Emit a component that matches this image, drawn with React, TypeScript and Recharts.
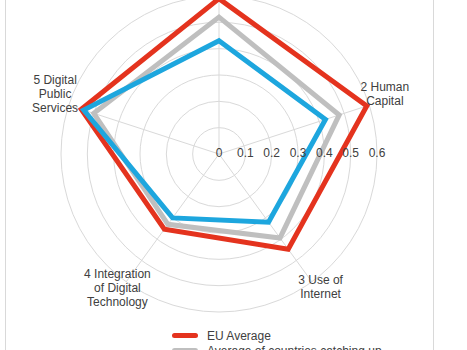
import { RadarChart, Radar, PolarGrid, PolarAngleAxis, PolarRadiusAxis } from 'recharts'

const categories = [
  '1 Connectivity',
  '2 Human\nCapital',
  '3 Use of\nInternet',
  '4 Integration\nof Digital\nTechnology',
  '5 Digital\nPublic\nServices',
]
const euAverage = [0.59, 0.59, 0.447, 0.353, 0.55]
const catchingUp = [0.52, 0.48, 0.394, 0.33, 0.5]
const countryValues = [0.43, 0.425, 0.32, 0.3, 0.54]
const radiusTicks = [0, 0.1, 0.2, 0.3, 0.4, 0.5, 0.6]

const seriesNames = ['EU Average', 'Average of countries catching up', 'Country']

const data = categories.map((name, i) => ({
  name,
  eu: euAverage[i],
  catching: catchingUp[i],
  country: countryValues[i],
}))

const series = [
  { key: 'eu', name: seriesNames[0], color: '#E4331E', dot: '#6b2a3a' },
  { key: 'catching', name: seriesNames[1], color: '#BFBFBF', dot: '#555555' },
  { key: 'country', name: seriesNames[2], color: '#1DA6DE', dot: '#1c4e80' },
]

const textColor = '#404040'
const font = '"Liberation Sans", Arial, sans-serif'

// first-line baseline offsets for each category label
const labelOffsets = [
  { dx: 0, dy: -4 },
  { dx: 8, dy: -12 },
  { dx: 4, dy: -4 },
  { dx: -4, dy: -10 },
  { dx: -6, dy: -19 },
]

function AngleTick(props: any) {
  const { x, y, payload, index } = props
  const off = labelOffsets[index] || { dx: 0, dy: 0 }
  const lines = String(payload.value).split('\n')
  return (
    <text x={x + off.dx} y={y + off.dy} textAnchor="middle" fill={textColor} fontSize={12} fontFamily={font}>
      {lines.map((l, i) => (
        <tspan key={i} x={x + off.dx} dy={i === 0 ? 0 : 14}>{l}</tspan>
      ))}
    </text>
  )
}

function RadiusTick(props: any) {
  const { x, y, payload } = props
  return (
    <text x={x} y={y + 3} textAnchor="middle" fill={textColor} fontSize={12} fontFamily={font}>
      {payload.value}
    </text>
  )
}

export default function App() {
  return (
    <div style={{ position: 'absolute', left: 0, top: 0, width: 467, height: 350, overflow: 'hidden', background: '#fff' }}>
      <div style={{ position: 'absolute', left: 5, top: -60, width: 427, height: 500, border: '1px solid #d9d9d9' }} />
      <div style={{ position: 'absolute', left: 0, top: 0 }}>
        <RadarChart
          width={467}
          height={350}
          data={data}
          cx={219}
          cy={154}
          innerRadius={0}
          outerRadius={158}
          margin={{ top: 0, right: 0, bottom: 0, left: 0 }}
        >
          <PolarGrid gridType="circle" stroke="#d9d9d9" />
          <PolarAngleAxis dataKey="name" tick={AngleTick} tickLine={false} axisLine={false} />
          <PolarRadiusAxis
            angle={0}
            type="number"
            scale="linear"
            domain={[0, 0.6]}
            allowDataOverflow
            allowDecimals
            tickCount={7}
            ticks={radiusTicks}
            tick={RadiusTick}
            axisLine={false}
            tickLine={false}
            orientation="middle"
          />
          {series.map((s) => (
            <Radar
              key={s.key}
              dataKey={s.key}
              name={s.name}
              stroke={s.color}
              strokeWidth={5}
              strokeLinejoin="miter"
              fill="none"
              fillOpacity={0}
              dot={{ r: 2.5, fill: s.dot, stroke: 'none' }}
              isAnimationActive={false}
            />
          ))}
        </RadarChart>
      </div>
      <div style={{ position: 'absolute', left: 172, top: 328, fontFamily: font, fontSize: 12, color: textColor }}>
        {series.map((s) => (
          <div key={s.key} style={{ display: 'flex', alignItems: 'center', height: 15 }}>
            <span style={{ display: 'inline-block', width: 26, height: 5, borderRadius: 3, background: s.color, marginRight: 9 }} />
            <span>{s.name}</span>
          </div>
        ))}
      </div>
    </div>
  )
}
